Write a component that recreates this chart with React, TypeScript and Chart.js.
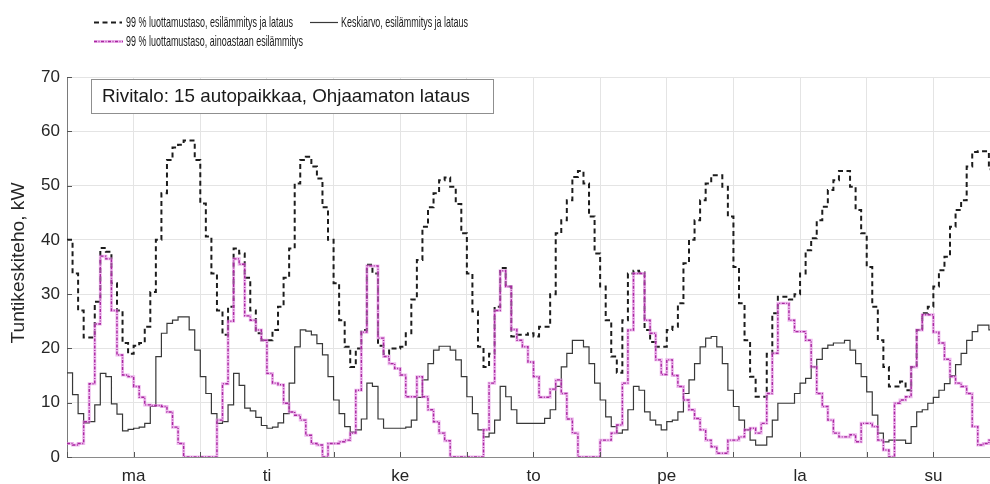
import React, { useEffect, useRef } from 'react';
import { Chart, registerables } from 'chart.js';

Chart.register(...registerables);

// Day labels (tick labels at day centres)
const dayLabels = ['ma', 'ti', 'ke', 'to', 'pe', 'la', 'su'];

// Hourly values, Monday 00:00 -> Sunday 23:00 (kW)
const total99 = [
  40, 33.8, 27, 22, 22, 28.6, 38.5, 37.8, 32, 27, 21, 19, 20.5, 21, 24, 30.4, 40, 48.6, 54.7, 57, 57.5, 58.3, 58.3, 54.7,
  46.7, 40.6, 33.8, 27, 22.5, 27.7, 38.4, 37.5, 33, 27, 22.8, 21.5, 21.5, 23.4, 27.7, 33, 38.4, 50.4, 54.7, 55.3, 53.5, 51.3, 46, 40,
  32, 25.2, 20.3, 16.6, 20, 23.4, 35.4, 33.8, 20.5, 19, 20, 20, 20.3, 22.8, 29, 36.3, 42.4, 46, 48.6, 51, 51.5, 49.8, 46.6, 41.2,
  33.8, 26.8, 20.3, 16.6, 19, 27.7, 34.8, 31.4, 22.2, 22.5, 22.5, 22.8, 22.2, 24, 24, 30, 41.2, 43.6, 47.3, 51.6, 52.7, 50.4, 44.3, 37.5,
  31.4, 25.2, 18.5, 15.5, 25.2, 33.8, 34.3, 34, 23.4, 21.2, 20.3, 20.3, 23.4, 24, 28.3, 35.7, 40, 43.6, 47.3, 50.4, 51.9, 51.9, 49.8, 44.3,
  35, 28.3, 21.5, 14.8, 11.1, 11.1, 19, 26.5, 29.5, 29.5, 29, 30, 33.8, 38.1, 40.3, 43.6, 46.1, 49.2, 51, 52.7, 52.7, 49.8, 45.5, 41.2,
  35, 27.7, 21.5, 16.6, 13, 13, 13.9, 12.3, 16.6, 23.4, 26.5, 27.7, 31.4, 34.4, 36.9, 42.4, 45.5, 47.3, 53.5, 56.2, 56.3, 56.3, 53, 46,
];

const mean = [
  15.5, 11.5, 8, 6.3, 6.5, 9.6, 15.4, 14.8, 9.8, 7.9, 4.8, 5.1, 5.3, 5.5, 6.2, 9.3, 18.5, 22.8, 24.6, 25.2, 25.8, 25.8, 23.4, 19.7,
  14.8, 11.7, 8, 6.2, 6.5, 9.6, 15.4, 13.2, 9, 8.5, 7.3, 5.8, 5.3, 5.5, 6.3, 8, 13.6, 20.3, 23.4, 23.2, 22.5, 20.9, 18.8, 14.8,
  10.5, 8, 5.6, 4.6, 5, 7, 13.6, 13, 7, 5.3, 5.3, 5.3, 5.3, 5.5, 6.8, 11, 14.2, 17.2, 19.7, 20.4, 20.4, 19.7, 17.9, 14.8,
  11.1, 8, 5, 3.7, 4.4, 6.8, 13, 11.1, 8.7, 6.2, 6.2, 6.2, 6.2, 6.2, 7.1, 8.7, 13, 16.6, 19.1, 21.5, 21.5, 20.3, 17.2, 13.6,
  10.5, 7.4, 5.6, 4.4, 5, 8.7, 13, 12.3, 8.3, 6.8, 5.9, 5, 6.5, 6.8, 8.3, 11.7, 14.2, 17.2, 20.3, 21.9, 22.2, 20.3, 17.2, 12.3,
  9.3, 6.8, 5, 3.1, 2.2, 2.2, 3.7, 6.8, 9.9, 9.9, 9.9, 11.7, 13.6, 14.5, 16.6, 18, 20, 20.6, 21, 21, 21.5, 19.7, 17.2, 14.8,
  12, 7.7, 4.4, 2.8, 3.1, 3.1, 3.1, 2.5, 5.6, 8.3, 8.7, 9.9, 11, 12.3, 13.5, 15, 17, 19.1, 21.5, 23.1, 24.3, 24.3, 23.4, 22,
];

const preheat99 = [
  2.5, 2.2, 2.5, 6.5, 13.5, 24.5, 37, 36.5, 27, 18.8, 15.1, 14.8, 13, 11, 9.6, 9.5, 9.5, 9.3, 8.3, 5.5, 2.5, 0, 0, 0,
  0, 0, 0, 6.8, 13.5, 25, 36.5, 35.5, 26, 25.2, 23.4, 21.5, 15.4, 13.6, 13.3, 9.9, 8.3, 7.7, 6.8, 4, 2.5, 2.2, 0, 2.5,
  2.5, 2.8, 3.1, 4.4, 12.3, 23, 35.2, 35.2, 21.9, 18.5, 17.2, 16.3, 15.1, 11.1, 11.1, 14.8, 11.1, 8.7, 6.5, 4.4, 3, 0, 0, 0,
  0, 0, 0, 5, 13.6, 27, 34.3, 31.4, 23.5, 21.5, 20.3, 17.5, 14.8, 11, 11, 12.5, 14.2, 11.7, 7, 4.4, 0, 0, 0, 0,
  3.1, 3.1, 4.4, 5.9, 13.6, 23.4, 33.8, 33.8, 25.2, 22.8, 17.9, 15.2, 17.9, 15, 13, 10.5, 8.7, 7.1, 5, 3.1, 1.9, 0.7, 0.7, 3.1,
  3.1, 3.7, 5, 5.3, 4.4, 6.2, 11.7, 19.1, 28.3, 28.3, 25.2, 23.1, 23.1, 21.5, 16.6, 11.7, 9.3, 6.8, 4.4, 3.7, 3.7, 4.1, 2.8, 6.2,
  6.2, 5.6, 3.1, 1.3, 0, 9.9, 10.5, 11.1, 16.6, 23.4, 26.2, 26.2, 23, 21, 18, 14.8, 13.6, 13, 11.7, 5.6, 2.2, 2.5, 3.1, 3.1,
];

const seriesNames = [
  '99 % luottamustaso, esilämmitys ja lataus',
  'Keskiarvo, esilämmitys ja lataus',
  '99 % luottamustaso, ainoastaan esilämmitys',
];
const annotationText = 'Rivitalo: 15 autopaikkaa, Ohjaamaton lataus';
const yTitle = 'Tuntikeskiteho, kW';

const FONT = "'Liberation Sans', Arial, Helvetica, sans-serif";
const NARROW = "'Liberation Sans Narrow', 'Liberation Sans', Arial, sans-serif";

const COL_DASH = '#1c1c1c';
const COL_MEAN = '#383838';
const COL_MAG = '#a8289f';
const COL_MAG_GLOW = 'rgba(226, 140, 226, 0.6)';

function toSteps(arr: number[]) {
  const pts = arr.map((y, i) => ({ x: i, y }));
  pts.push({ x: arr.length, y: arr[arr.length - 1] });
  return pts;
}

function scaledText(ctx: CanvasRenderingContext2D, text: string, x: number, y: number, font: string, targetW: number) {
  ctx.save();
  ctx.font = font;
  const w = ctx.measureText(text).width;
  ctx.translate(x, y);
  ctx.scale(targetW / w, 1);
  ctx.textAlign = 'left';
  ctx.textBaseline = 'middle';
  ctx.fillText(text, 0, 0);
  ctx.restore();
}

const decorPlugin = {
  id: 'decor',
  afterDraw(chart: any) {
    const { ctx, chartArea } = chart;
    const xs = chart.scales.x;
    const ys = chart.scales.y;
    ctx.save();

    // inward tick marks
    ctx.strokeStyle = '#555';
    ctx.lineWidth = 1;
    ctx.beginPath();
    for (let v = 0; v <= 70; v += 10) {
      const py = Math.round(ys.getPixelForValue(v)) + 0.5;
      ctx.moveTo(chartArea.left, py);
      ctx.lineTo(chartArea.left + 5, py);
    }
    for (let h = 0; h <= 156; h += 12) {
      const px = Math.round(xs.getPixelForValue(h)) + 0.5;
      ctx.moveTo(px, chartArea.bottom);
      ctx.lineTo(px, chartArea.bottom - 5);
    }
    ctx.stroke();

    // annotation box
    ctx.fillStyle = '#ffffff';
    ctx.fillRect(91, 79, 402, 34);
    ctx.strokeStyle = '#8f8f8f';
    ctx.lineWidth = 1;
    ctx.strokeRect(91.5, 79.5, 402, 34);
    ctx.fillStyle = '#1a1a1a';
    scaledText(ctx, annotationText, 102, 97, `18.5px ${FONT}`, 368);

    // y axis title
    ctx.save();
    ctx.translate(19, 263);
    ctx.rotate(-Math.PI / 2);
    ctx.fillStyle = '#262626';
    ctx.font = `18px ${FONT}`;
    const tw = ctx.measureText(yTitle).width;
    ctx.scale(161 / tw, 1);
    ctx.textAlign = 'center';
    ctx.textBaseline = 'middle';
    ctx.fillText(yTitle, 0, 0);
    ctx.restore();

    // legend
    const row1 = 22.5;
    const row2 = 41.5;
    ctx.strokeStyle = COL_DASH;
    ctx.lineWidth = 2;
    ctx.setLineDash([5, 3.5]);
    ctx.beginPath();
    ctx.moveTo(94, row1);
    ctx.lineTo(122, row1);
    ctx.stroke();
    ctx.setLineDash([]);
    ctx.strokeStyle = COL_MEAN;
    ctx.lineWidth = 1.2;
    ctx.beginPath();
    ctx.moveTo(310, row1);
    ctx.lineTo(338, row1);
    ctx.stroke();
    ctx.strokeStyle = COL_MAG_GLOW;
    ctx.lineWidth = 3;
    ctx.beginPath();
    ctx.moveTo(94, row2);
    ctx.lineTo(123, row2);
    ctx.stroke();
    ctx.strokeStyle = COL_MAG;
    ctx.lineWidth = 1.4;
    ctx.setLineDash([3, 1.5, 1, 1.5]);
    ctx.beginPath();
    ctx.moveTo(94, row2);
    ctx.lineTo(123, row2);
    ctx.stroke();
    ctx.setLineDash([]);

    ctx.fillStyle = '#1a1a1a';
    scaledText(ctx, seriesNames[0], 126, row1, `15px ${NARROW}`, 167);
    scaledText(ctx, seriesNames[1], 341, row1, `15px ${NARROW}`, 127);
    scaledText(ctx, seriesNames[2], 126, row2, `15px ${NARROW}`, 177);

    ctx.restore();
  },
};

export default function App() {
  const canvasRef = useRef<HTMLCanvasElement | null>(null);

  useEffect(() => {
    document.body.style.margin = '0';
    const canvas = canvasRef.current;
    if (!canvas) return;

    const chart = new Chart(canvas, {
      type: 'line',
      data: {
        datasets: [
          {
            label: seriesNames[2],
            data: toSteps(preheat99),
            stepped: true,
            borderColor: COL_MAG,
            borderWidth: 1.4,
            borderDash: [3, 1.5, 1, 1.5],
            pointRadius: 0,
            fill: false,
            order: 0,
          },
          {
            label: seriesNames[2] + ' (glow)',
            data: toSteps(preheat99),
            stepped: true,
            borderColor: COL_MAG_GLOW,
            borderWidth: 3,
            pointRadius: 0,
            fill: false,
            order: 1,
          },
          {
            label: seriesNames[0],
            data: toSteps(total99),
            stepped: true,
            borderColor: COL_DASH,
            borderWidth: 2,
            borderDash: [5, 3.5],
            pointRadius: 0,
            fill: false,
            order: 2,
          },
          {
            label: seriesNames[1],
            data: toSteps(mean),
            stepped: true,
            borderColor: COL_MEAN,
            borderWidth: 1.2,
            pointRadius: 0,
            fill: false,
            order: 3,
          },
        ],
      },
      options: {
        responsive: false,
        animation: false,
        devicePixelRatio: 1,
        layout: { padding: { top: 77, right: 0, bottom: 0, left: 0 } },
        plugins: {
          legend: { display: false },
          tooltip: { enabled: false },
          title: { display: false },
        },
        scales: {
          x: {
            type: 'linear',
            min: 0,
            max: 166.2,
            afterFit: (scale: any) => {
              scale.height = 27;
            },
            grid: { color: '#e4e4e4', lineWidth: 1, drawTicks: false },
            border: { display: true, color: '#8a8a8a', width: 1 },
            ticks: {
              stepSize: 12,
              includeBounds: false,
              autoSkip: false,
              maxRotation: 0,
              padding: 9,
              color: '#262626',
              font: { family: FONT, size: 17 },
              callback: (v: any) => {
                const n = Number(v);
                if (n % 24 === 12) return dayLabels[(n - 12) / 24];
                return '';
              },
            },
          },
          y: {
            min: 0,
            max: 70,
            afterFit: (scale: any) => {
              scale.width = 67;
            },
            grid: { color: '#e4e4e4', lineWidth: 1, drawTicks: false },
            border: { display: true, color: '#7a7a7a', width: 1 },
            ticks: {
              stepSize: 10,
              padding: 7,
              color: '#262626',
              font: { family: FONT, size: 17 },
            },
          },
        },
      },
      plugins: [decorPlugin],
    });

    return () => chart.destroy();
  }, []);

  return (
    <div style={{ position: 'absolute', left: 0, top: 0, width: 990, height: 484, background: '#fff' }}>
      <canvas ref={canvasRef} width={990} height={484} style={{ display: 'block' }} />
    </div>
  );
}
